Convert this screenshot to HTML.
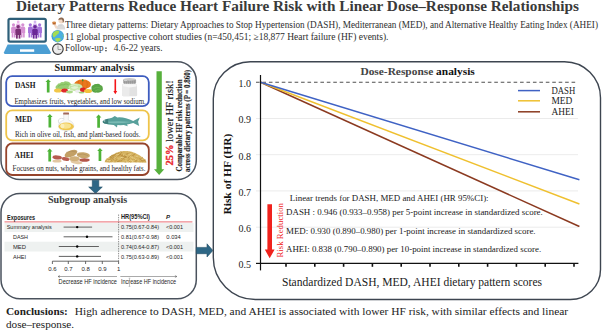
<!DOCTYPE html>
<html><head><meta charset="utf-8">
<style>
html,body{margin:0;padding:0;background:#fff;}
body{width:602px;height:331px;overflow:hidden;}
svg{display:block;}
.serif{font-family:"Liberation Serif",serif;}
.sans{font-family:"Liberation Sans",sans-serif;}
</style></head><body>
<svg width="602" height="331" viewBox="0 0 602 331">
<rect width="602" height="331" fill="#fff"/>

<!-- ===== TITLE ===== -->
<text class="serif" x="16" y="11.3" font-size="15.3" font-weight="bold" fill="#3a3a3a" textLength="563" lengthAdjust="spacingAndGlyphs">Dietary Patterns Reduce Heart Failure Risk with Linear Dose–Response Relationships</text>

<!-- ===== LAPTOP ===== -->
<g id="laptop">
  <rect x="8.5" y="18.8" width="37.3" height="22.8" rx="1.5" fill="#fff" stroke="#2e5f79" stroke-width="2.2"/>
  <path d="M7.6 44.6 L46.3 44.6 L50.8 52.2 Q51.3 53.9 49.5 53.9 L5.2 53.9 Q3.4 53.9 4 52.2 Z" fill="#4b9ed3"/>
  <rect x="20" y="49.3" width="14.2" height="2.5" fill="#fff"/>
  <!-- people -->
  <g transform="translate(0 0)">
    <g fill="#eab2e8">
      <circle cx="18.2" cy="21.9" r="1.4"/>
      <rect x="16.2" y="23.5" width="4" height="5" rx="1"/>
    </g>
    <g fill="#d690d3">
      <circle cx="13.5" cy="24.8" r="1.6"/>
      <path d="M11.2 33 L11.2 28.2 Q11.2 26.6 12.8 26.6 L14.4 26.6 Q16 26.6 16 28.2 L16 33Z"/>
      <rect x="11.7" y="32" width="1.6" height="5.5"/><rect x="13.9" y="32" width="1.6" height="5.5"/>
      <circle cx="22.8" cy="24.8" r="1.6"/>
      <path d="M20.4 33 L20.4 28.2 Q20.4 26.6 22 26.6 L23.6 26.6 Q25.2 26.6 25.2 28.2 L25.2 33Z"/>
      <rect x="20.9" y="32" width="1.6" height="5.5"/><rect x="23.1" y="32" width="1.6" height="5.5"/>
    </g>
    <g fill="#c87cc5" opacity="0.8">
      <rect x="15.8" y="25.5" width="5" height="3" rx="1"/>
    </g>
    <g fill="#7b3075">
      <circle cx="18.2" cy="26.7" r="1.6"/>
      <path d="M15.4 35 L15.4 30.3 Q15.4 28.6 17 28.6 L19.4 28.6 Q21 28.6 21 30.3 L21 35Z"/>
      <rect x="16" y="34" width="1.8" height="4.6"/><rect x="18.6" y="34" width="1.8" height="4.6"/>
    </g>
  </g>
  <g transform="translate(16.8 0)">
    <g fill="#d4b6f0">
      <circle cx="18.2" cy="21.9" r="1.4"/>
      <rect x="16.2" y="23.5" width="4" height="5" rx="1"/>
    </g>
    <g fill="#a774dc">
      <circle cx="13.5" cy="24.8" r="1.6"/>
      <path d="M11.2 33 L11.2 28.2 Q11.2 26.6 12.8 26.6 L14.4 26.6 Q16 26.6 16 28.2 L16 33Z"/>
      <rect x="11.7" y="32" width="1.6" height="5.5"/><rect x="13.9" y="32" width="1.6" height="5.5"/>
      <circle cx="22.8" cy="24.8" r="1.6"/>
      <path d="M20.4 33 L20.4 28.2 Q20.4 26.6 22 26.6 L23.6 26.6 Q25.2 26.6 25.2 28.2 L25.2 33Z"/>
      <rect x="20.9" y="32" width="1.6" height="5.5"/><rect x="23.1" y="32" width="1.6" height="5.5"/>
    </g>
    <g fill="#9460cc" opacity="0.8">
      <rect x="15.8" y="25.5" width="5" height="3" rx="1"/>
    </g>
    <g fill="#6a2797">
      <circle cx="18.2" cy="26.7" r="1.6"/>
      <path d="M15.4 35 L15.4 30.3 Q15.4 28.6 17 28.6 L19.4 28.6 Q21 28.6 21 30.3 L21 35Z"/>
      <rect x="16" y="34" width="1.8" height="4.6"/><rect x="18.6" y="34" width="1.8" height="4.6"/>
    </g>
  </g>
</g>

<!-- ===== SMALL ICONS ===== -->
<g id="icons">
  <!-- person w cup -->
  <path d="M56.3 29.6 Q56.5 24.6 61 24.1 Q65 24.4 65.2 29.6 Z" fill="#dadada"/>
  <path d="M58.5 25 Q60.5 26.5 62.5 24.6" fill="none" stroke="#c8c8c8" stroke-width="0.5"/>
  <circle cx="61.2" cy="20.6" r="2.8" fill="#f2d9c6"/>
  <path d="M58.4 20 Q58.4 17.4 61.4 17.4 Q64.3 17.6 64.1 20.8 Q63.6 22.6 62.8 23 Q63 20.3 61.8 19.5 Q60 19.3 58.4 20Z" fill="#8c6a52"/>
  <path d="M53.6 24.4 L55.7 28.8 L57.6 27.6 L55.6 24Z" fill="#f2d9c6"/>
  <path d="M52.3 22.2 L56 22.2 L55.6 24.6 L52.7 24.6Z" fill="#b9662b"/>
  <ellipse cx="54.15" cy="22.2" rx="1.85" ry="0.6" fill="#d9893f"/>
  <!-- globe -->
  <circle cx="57.7" cy="36.2" r="6.2" fill="#3d9fd6"/>
  <circle cx="57.9" cy="36.1" r="5.4" fill="#4cb0e0"/>
  <path d="M52.6 33.6 Q54 30.9 57.2 30.5 Q58.8 30.6 59.4 31.6 Q58.4 32.6 58.8 33.4 Q57.4 33.8 57 35 Q55.8 35.2 55.2 36.6 Q54.2 37.6 53.2 36.8 Q52.4 35.2 52.6 33.6Z" fill="#a4dc52"/>
  <path d="M55.3 38.6 Q57 37.6 59.4 38 Q61.4 38.6 60.6 40 Q59.2 41.6 57.6 41.9 Q56 41.6 55.6 40.6 Q55 39.4 55.3 38.6Z" fill="#a4dc52"/>
  <path d="M62.8 34 Q63.9 35.5 63.6 37.6 Q62.6 36.5 62.8 34Z" fill="#a4dc52"/>
  <!-- clock -->
  <circle cx="57.9" cy="49.1" r="5.3" fill="#ececec" stroke="#383838" stroke-width="1.15"/>
  <path d="M58 45.6 L58 49.5 L61.2 49.5" fill="none" stroke="#8e8e8e" stroke-width="0.8"/>
</g>

<!-- ===== INTRO TEXT ===== -->
<g class="serif" fill="#2e2e2e" font-size="9.7">
  <text x="65" y="28.3" textLength="533" lengthAdjust="spacingAndGlyphs">Three dietary patterns: Dietary Approaches to Stop Hypertension (DASH), Mediterranean (MED), and Alternative Healthy Eating Index (AHEI)</text>
  <text x="65" y="40" textLength="323.5" lengthAdjust="spacingAndGlyphs">11 global prospective cohort studies (n=450,451; ≥18,877 Heart failure (HF) events).</text>
  <text x="65" y="51.3" textLength="38.6" lengthAdjust="spacingAndGlyphs">Follow-up</text>
  <rect x="105.3" y="47.5" width="1.3" height="1.3"/><rect x="105.3" y="50" width="1.3" height="1.3"/>
  <text x="113.8" y="51.3" textLength="48.8" lengthAdjust="spacingAndGlyphs">4.6-22 years.</text>
</g>

<!-- ===== SUMMARY PANEL ===== -->
<rect x="1" y="61.8" width="195.3" height="117.7" rx="19" fill="none" stroke="#4a525d" stroke-width="1.5"/>
<text class="serif" x="54.6" y="71" font-size="10.1" font-weight="bold" fill="#222" textLength="79.8" lengthAdjust="spacingAndGlyphs">Summary analysis</text>

<rect x="6.2" y="76.2" width="142.6" height="30" rx="6" fill="none" stroke="#3d5cbf" stroke-width="1.8"/>
<rect x="6.2" y="110.4" width="142.6" height="29.9" rx="6" fill="none" stroke="#eec44a" stroke-width="1.8"/>
<rect x="6.2" y="143.5" width="142.6" height="31.5" rx="6" fill="none" stroke="#96442c" stroke-width="1.8"/>

<g class="serif" font-weight="bold" fill="#1a1a1a" font-size="7.6">
  <text x="14.9" y="87.7" textLength="20.6" lengthAdjust="spacingAndGlyphs">DASH</text>
  <text x="14.9" y="122.4" textLength="17.3" lengthAdjust="spacingAndGlyphs">MED</text>
  <text x="14.6" y="158.4" textLength="18.9" lengthAdjust="spacingAndGlyphs">AHEI</text>
</g>
<g class="serif" fill="#1e1e1e" font-size="7.7">
  <text x="14.4" y="103.6" textLength="131.4" lengthAdjust="spacingAndGlyphs">Emphasizes fruits, vegetables, and low sodium.</text>
  <text x="14.9" y="136.8" textLength="125.6" lengthAdjust="spacingAndGlyphs">Rich in olive oil, fish, and plant-based foods.</text>
  <text x="12.6" y="170.6" textLength="132.8" lengthAdjust="spacingAndGlyphs">Focuses on nuts, whole grains, and healthy fats.</text>
</g>

<!-- veggies -->
<g id="veg">
  <path d="M55.5 88 Q55.3 85.5 57.2 85 Q57.8 83 60 83.4 Q61 81.6 63.3 82.2 Q65 80.8 67 81.6 Q69.5 81.5 70.2 83.2 Q72.5 84 72 86.5 L70 89 L57 89.5Z" fill="#96cd72"/>
  <path d="M58 86.5 Q61 84 63.5 84.8 Q66 83 68.5 84.6" fill="none" stroke="#6fb24c" stroke-width="0.6"/>
  <ellipse cx="82.6" cy="84.4" rx="8.4" ry="4.9" fill="#e9781d"/>
  <path d="M78.6 80.6 Q77 84.4 78.8 88.6 M86.6 80.6 Q88.2 84.4 86.4 88.6 M82.6 79.6 L82.6 89" fill="none" stroke="#d2640f" stroke-width="0.6"/>
  <path d="M82.1 79.2 L83.3 79.2 L83.5 81.2 L81.9 81.2Z" fill="#3f8a2a"/>
  <path d="M91.5 88.8 Q91 85.6 93.5 85 Q94.5 83.6 96.8 84 Q99 83.4 100.3 85 Q102.8 85.6 102.8 88 Q103.5 90.5 101.5 91.6 Q99.5 93.2 96.5 92.6 Q93.3 93 92.2 91.2 Q91 90.3 91.5 88.8Z" fill="#5aa546"/>
  <path d="M93.5 88.5 Q96.5 86.2 100.5 88 M95 91 Q97.5 89 100.8 90.2" fill="none" stroke="#7cc062" stroke-width="0.6"/>
  <ellipse cx="75.6" cy="87.3" rx="7" ry="3.9" fill="#c9e8ae"/>
  <ellipse cx="74.5" cy="86.6" rx="3.6" ry="2.3" fill="#e2f3d4"/>
  <path d="M70 87 Q74 84.5 80 86.5" fill="none" stroke="#a6d587" stroke-width="0.6"/>
  <ellipse cx="58" cy="90.5" rx="4" ry="2" fill="#f1c749"/>
  <ellipse cx="64.6" cy="90.5" rx="3.4" ry="2" fill="#df2a2a"/>
  <ellipse cx="69.5" cy="92" rx="3.4" ry="1.4" fill="#acd98b"/>
  <ellipse cx="77.5" cy="91.3" rx="2.4" ry="1.7" fill="#eeecef"/>
  <ellipse cx="83" cy="89.8" rx="3" ry="2.2" fill="#dc2424"/>
  <ellipse cx="88" cy="91" rx="4" ry="2" fill="#f2c23c"/>
  <ellipse cx="81.5" cy="92.6" rx="3" ry="0.9" fill="#9fd07c"/>
</g>
<!-- salt shaker -->
<g id="salt">
  <path d="M122.4 84 L137 84 L137.2 95 Q137.2 96.2 135.8 96.2 L123.6 96.2 Q122.2 96.2 122.2 95Z" fill="#e2e2e2"/>
  <path d="M122.4 84 L129.5 84 L129.3 96.2 L123.6 96.2 Q122.2 96.2 122.2 95Z" fill="#ebebeb"/>
  <path d="M122.6 84.2 L137 84.2 L136.4 86.4 L129.5 87.6 L123.2 86.2Z" fill="#f7f7f7"/>
  <rect x="123.2" y="79.2" width="12.9" height="4.6" rx="1.2" fill="#a5a5a5"/>
  <ellipse cx="129.65" cy="79.4" rx="6.3" ry="1.3" fill="#c9c9c9"/>
  <path d="M124.5 80.5 L124.5 83.5 M126.5 80.8 L126.5 83.7 M128.5 80.9 L128.5 83.8 M130.5 80.9 L130.5 83.8 M132.5 80.8 L132.5 83.7 M134.5 80.5 L134.5 83.5" stroke="#8c8c8c" stroke-width="0.5"/>
  <path d="M124 80.6 L127 80.6" stroke="#e0e0e0" stroke-width="0.8"/>
</g>
<!-- olive oil -->
<g id="oil">
  <path d="M63.6 113.8 L68.6 113.8 L68.3 120 Q73.8 121.8 73.9 126 Q73.8 130.6 66.2 130.6 Q58.4 130.6 58.4 126 Q58.5 121.8 63.9 120Z" fill="#f7f7f5" stroke="#cfd3d3" stroke-width="0.45"/>
  <path d="M63.8 118.6 Q58.6 117.6 58.3 121 Q58.3 123.6 60.6 123.8" fill="none" stroke="#cfd3d3" stroke-width="0.7"/>
  <ellipse cx="66.2" cy="126.4" rx="7.6" ry="3.9" fill="#efc64e"/>
  <ellipse cx="65.6" cy="126" rx="5.6" ry="2.7" fill="#f8e391"/>
  <ellipse cx="62.5" cy="126" rx="2" ry="2.2" fill="#fbeeb8"/>
  <rect x="63.2" y="112.4" width="5.8" height="2" rx="0.5" fill="#a2695a"/>
</g>
<!-- fish -->
<g id="fish">
  <path d="M102.6 121.8 Q103.5 119.6 107 118.9 L112 117.8 L114.8 115.9 L117.4 117.4 Q122 117.1 126 118.3 Q130 119.4 133.2 121 L139.8 117.5 L138.1 121.8 L139.2 125.9 L133.2 123.1 Q129 124.3 127 124.6 L127.8 126.2 L123.8 125.1 Q120 125.3 117.4 125.1 L117 127.5 L113.8 125 Q108 124.7 104.5 123.5 Q102.7 122.9 102.6 121.8Z" fill="#58a09b"/>
  <path d="M106 121.8 Q118 120.6 132 121.9 Q118 123.8 106 122.8Z" fill="#82c0ba" opacity="0.8"/>
  <path d="M102.6 121.8 Q103.5 119.6 107 118.9 L108.4 118.7 Q107.6 121 108.4 123.9 Q105.5 123.6 104.5 123.5 Q102.7 122.9 102.6 121.8Z" fill="#3f7f7c"/>
  <circle cx="104.7" cy="120.9" r="0.55" fill="#e8f4f2"/>
</g>
<!-- nuts -->
<g id="nuts">
  <ellipse cx="57" cy="161.2" rx="4.6" ry="1.4" fill="#e2c7a2"/>
  <ellipse cx="76.5" cy="162.4" rx="6" ry="1.6" fill="#e3c9a3" transform="rotate(8 76.5 162.4)"/>
  <ellipse cx="71" cy="153.6" rx="6.8" ry="3.2" fill="#c3a065" transform="rotate(-22 71 153.6)"/>
  <ellipse cx="83.3" cy="155.2" rx="6.6" ry="3" fill="#c8a76d" transform="rotate(6 83.3 155.2)"/>
  <ellipse cx="74.5" cy="158.8" rx="5.2" ry="2.5" fill="#d0b07a"/>
  <ellipse cx="57.2" cy="157.4" rx="4.8" ry="2" fill="#b65b4f" transform="rotate(6 57.2 157.4)"/>
  <ellipse cx="65.6" cy="159" rx="3.9" ry="1.9" fill="#b95e51" transform="rotate(12 65.6 159)"/>
  <ellipse cx="84.5" cy="160" rx="5.2" ry="1.8" fill="#b45649"/>
  <path d="M66 152.5 Q71 150 76 152" fill="none" stroke="#a98650" stroke-width="0.5"/>
  <path d="M78 154.5 Q83 153 88 155.5" fill="none" stroke="#a98650" stroke-width="0.5"/>
</g>
<!-- grains -->
<g id="grain">
  <path d="M104.5 162.2 L104.5 162.20 L105.5 160.38 L106.5 159.25 L107.5 158.29 L108.5 157.44 L109.5 156.67 L110.5 155.96 L111.5 155.31 L112.5 154.71 L113.5 154.15 L114.5 153.65 L115.5 153.19 L116.5 152.77 L117.5 152.40 L118.5 152.07 L119.5 151.79 L120.5 151.55 L121.5 151.35 L122.5 151.20 L123.5 151.09 L124.5 151.02 L125.5 151.00 L126.5 151.02 L127.5 151.09 L128.5 151.20 L129.5 151.35 L130.5 151.55 L131.5 151.79 L132.5 152.07 L133.5 152.40 L134.5 152.77 L135.5 153.19 L136.5 153.65 L137.5 154.15 L138.5 154.71 L139.5 155.31 L140.5 155.96 L141.5 156.67 L142.5 157.44 L143.5 158.29 L144.5 159.25 L145.5 160.38 L146.5 162.20 L146.5 162.4 Z" fill="#d7b563"/>
  <g stroke-width="0.55" stroke-linecap="round"><line x1="114.40" y1="158.50" x2="116.16" y2="158.10" stroke="#f0da9a"/><line x1="128.02" y1="157.44" x2="129.28" y2="158.53" stroke="#a87d30"/><line x1="114.12" y1="162.02" x2="116.16" y2="161.91" stroke="#d2ae5a"/><line x1="120.89" y1="160.91" x2="122.09" y2="160.30" stroke="#a87d30"/><line x1="120.61" y1="151.84" x2="121.81" y2="152.47" stroke="#a87d30"/><line x1="107.05" y1="160.89" x2="108.29" y2="161.68" stroke="#a87d30"/><line x1="133.05" y1="160.55" x2="135.02" y2="161.32" stroke="#d2ae5a"/><line x1="133.94" y1="157.85" x2="134.86" y2="158.82" stroke="#e9cf86"/><line x1="108.85" y1="158.23" x2="110.75" y2="157.21" stroke="#d2ae5a"/><line x1="135.37" y1="161.01" x2="137.39" y2="160.73" stroke="#a87d30"/><line x1="118.64" y1="157.84" x2="120.73" y2="158.15" stroke="#f0da9a"/><line x1="140.88" y1="157.89" x2="142.55" y2="157.22" stroke="#f0da9a"/><line x1="111.64" y1="160.32" x2="113.09" y2="161.84" stroke="#a87d30"/><line x1="108.99" y1="159.98" x2="111.12" y2="160.48" stroke="#e9cf86"/><line x1="116.22" y1="153.07" x2="118.01" y2="154.34" stroke="#c49a45"/><line x1="118.95" y1="152.66" x2="119.89" y2="153.44" stroke="#d2ae5a"/><line x1="135.35" y1="161.63" x2="136.62" y2="160.33" stroke="#c49a45"/><line x1="119.68" y1="157.81" x2="121.79" y2="158.00" stroke="#e9cf86"/><line x1="125.11" y1="162.19" x2="126.31" y2="161.78" stroke="#a87d30"/><line x1="126.38" y1="160.92" x2="127.39" y2="162.02" stroke="#e9cf86"/><line x1="111.49" y1="155.37" x2="112.70" y2="156.27" stroke="#b88a38"/><line x1="140.11" y1="158.88" x2="141.83" y2="158.76" stroke="#f0da9a"/><line x1="138.97" y1="160.81" x2="140.64" y2="159.42" stroke="#a87d30"/><line x1="115.59" y1="158.44" x2="117.57" y2="159.23" stroke="#d2ae5a"/><line x1="143.53" y1="160.74" x2="144.74" y2="160.84" stroke="#d2ae5a"/><line x1="143.64" y1="160.72" x2="145.38" y2="160.34" stroke="#b88a38"/><line x1="107.41" y1="160.63" x2="109.28" y2="160.52" stroke="#e9cf86"/><line x1="128.85" y1="154.80" x2="130.64" y2="154.77" stroke="#f0da9a"/><line x1="106.10" y1="160.27" x2="107.56" y2="160.60" stroke="#a87d30"/><line x1="117.74" y1="156.32" x2="119.22" y2="155.82" stroke="#a87d30"/><line x1="115.52" y1="160.82" x2="117.08" y2="159.54" stroke="#a87d30"/><line x1="131.74" y1="153.94" x2="133.59" y2="153.94" stroke="#e9cf86"/><line x1="114.37" y1="155.50" x2="116.25" y2="155.29" stroke="#c49a45"/><line x1="128.75" y1="161.27" x2="130.11" y2="161.70" stroke="#b88a38"/><line x1="108.34" y1="161.27" x2="109.90" y2="160.43" stroke="#e9cf86"/><line x1="114.08" y1="155.03" x2="115.47" y2="155.11" stroke="#a87d30"/><line x1="112.37" y1="156.43" x2="113.95" y2="157.37" stroke="#a87d30"/><line x1="118.53" y1="154.00" x2="120.40" y2="153.29" stroke="#e9cf86"/><line x1="123.30" y1="158.53" x2="124.95" y2="157.89" stroke="#c49a45"/><line x1="141.21" y1="159.08" x2="142.60" y2="157.44" stroke="#a87d30"/><line x1="143.74" y1="160.02" x2="145.24" y2="161.53" stroke="#b88a38"/><line x1="106.38" y1="160.01" x2="108.14" y2="160.84" stroke="#e9cf86"/><line x1="126.38" y1="160.25" x2="128.04" y2="161.47" stroke="#e9cf86"/><line x1="109.99" y1="158.52" x2="111.37" y2="157.07" stroke="#a87d30"/><line x1="141.35" y1="160.98" x2="142.71" y2="162.12" stroke="#c49a45"/><line x1="124.04" y1="152.86" x2="125.48" y2="152.87" stroke="#c49a45"/><line x1="125.82" y1="155.29" x2="127.13" y2="156.54" stroke="#e9cf86"/><line x1="109.89" y1="161.77" x2="111.89" y2="161.91" stroke="#c49a45"/><line x1="118.72" y1="154.18" x2="120.73" y2="154.30" stroke="#b88a38"/><line x1="114.82" y1="155.67" x2="115.86" y2="156.51" stroke="#c49a45"/><line x1="124.05" y1="157.71" x2="125.98" y2="157.37" stroke="#b88a38"/><line x1="115.65" y1="158.04" x2="117.30" y2="157.81" stroke="#c49a45"/><line x1="138.98" y1="161.06" x2="139.86" y2="160.17" stroke="#d2ae5a"/><line x1="143.37" y1="162.18" x2="144.65" y2="161.05" stroke="#e9cf86"/><line x1="111.35" y1="156.15" x2="112.90" y2="155.83" stroke="#e9cf86"/><line x1="119.44" y1="154.30" x2="120.71" y2="153.91" stroke="#a87d30"/><line x1="105.37" y1="161.07" x2="106.90" y2="161.95" stroke="#c49a45"/><line x1="119.86" y1="157.72" x2="121.25" y2="158.47" stroke="#c49a45"/><line x1="129.47" y1="156.56" x2="131.12" y2="156.19" stroke="#f0da9a"/><line x1="117.68" y1="161.63" x2="118.89" y2="161.45" stroke="#b88a38"/><line x1="126.30" y1="159.40" x2="127.49" y2="158.29" stroke="#d2ae5a"/><line x1="110.05" y1="156.66" x2="112.12" y2="156.01" stroke="#a87d30"/><line x1="136.19" y1="156.45" x2="137.51" y2="156.36" stroke="#f0da9a"/><line x1="131.01" y1="160.47" x2="132.64" y2="161.38" stroke="#f0da9a"/><line x1="117.60" y1="157.15" x2="119.24" y2="158.14" stroke="#d2ae5a"/><line x1="111.15" y1="161.07" x2="112.05" y2="160.15" stroke="#c49a45"/><line x1="131.06" y1="155.63" x2="132.36" y2="156.44" stroke="#c49a45"/><line x1="106.05" y1="159.69" x2="107.94" y2="159.63" stroke="#e9cf86"/><line x1="127.91" y1="160.66" x2="129.26" y2="159.24" stroke="#a87d30"/><line x1="125.98" y1="154.04" x2="127.28" y2="154.16" stroke="#a87d30"/><line x1="107.38" y1="159.27" x2="109.39" y2="159.50" stroke="#b88a38"/><line x1="143.99" y1="161.48" x2="145.88" y2="161.33" stroke="#d2ae5a"/><line x1="115.23" y1="158.04" x2="116.50" y2="159.26" stroke="#c49a45"/><line x1="119.89" y1="153.75" x2="121.39" y2="155.14" stroke="#b88a38"/><line x1="121.14" y1="157.47" x2="123.25" y2="157.76" stroke="#f0da9a"/><line x1="124.35" y1="157.86" x2="125.38" y2="158.72" stroke="#c49a45"/><line x1="124.41" y1="156.26" x2="126.43" y2="156.99" stroke="#a87d30"/><line x1="133.39" y1="155.11" x2="134.68" y2="154.56" stroke="#a87d30"/><line x1="125.40" y1="160.82" x2="126.82" y2="161.82" stroke="#e9cf86"/><line x1="131.30" y1="160.49" x2="133.06" y2="160.78" stroke="#e9cf86"/><line x1="139.77" y1="158.71" x2="141.61" y2="157.92" stroke="#b88a38"/><line x1="111.78" y1="157.94" x2="113.66" y2="157.34" stroke="#b88a38"/><line x1="121.66" y1="158.68" x2="122.98" y2="159.16" stroke="#a87d30"/><line x1="137.71" y1="160.73" x2="139.39" y2="160.89" stroke="#f0da9a"/><line x1="107.91" y1="161.29" x2="109.74" y2="162.27" stroke="#c49a45"/><line x1="123.37" y1="154.44" x2="125.09" y2="153.59" stroke="#f0da9a"/><line x1="107.75" y1="159.21" x2="109.65" y2="158.34" stroke="#e9cf86"/><line x1="110.77" y1="159.54" x2="111.95" y2="159.91" stroke="#e9cf86"/><line x1="112.07" y1="155.88" x2="113.17" y2="155.20" stroke="#c49a45"/><line x1="110.14" y1="157.54" x2="111.06" y2="158.35" stroke="#d2ae5a"/><line x1="128.13" y1="159.28" x2="129.13" y2="158.11" stroke="#d2ae5a"/><line x1="119.87" y1="152.61" x2="121.75" y2="153.10" stroke="#d2ae5a"/><line x1="120.67" y1="157.90" x2="121.83" y2="156.99" stroke="#f0da9a"/><line x1="122.15" y1="156.21" x2="123.59" y2="156.28" stroke="#a87d30"/><line x1="141.84" y1="159.18" x2="143.58" y2="160.08" stroke="#e9cf86"/><line x1="131.13" y1="158.15" x2="132.57" y2="159.57" stroke="#c49a45"/><line x1="134.58" y1="161.42" x2="136.24" y2="161.94" stroke="#c49a45"/><line x1="131.47" y1="157.87" x2="132.55" y2="156.83" stroke="#f0da9a"/><line x1="127.20" y1="153.38" x2="128.98" y2="153.84" stroke="#b88a38"/><line x1="119.81" y1="161.26" x2="121.11" y2="161.16" stroke="#a87d30"/><line x1="110.68" y1="157.58" x2="112.35" y2="158.26" stroke="#a87d30"/><line x1="116.73" y1="154.65" x2="118.71" y2="154.59" stroke="#f0da9a"/><line x1="107.89" y1="160.46" x2="109.46" y2="161.21" stroke="#f0da9a"/><line x1="120.71" y1="153.23" x2="121.86" y2="152.75" stroke="#b88a38"/><line x1="106.75" y1="160.82" x2="108.53" y2="159.98" stroke="#e9cf86"/><line x1="139.13" y1="161.78" x2="141.14" y2="161.60" stroke="#c49a45"/><line x1="119.19" y1="160.98" x2="120.34" y2="160.06" stroke="#c49a45"/><line x1="132.08" y1="157.52" x2="133.07" y2="158.38" stroke="#f0da9a"/><line x1="112.46" y1="157.40" x2="114.30" y2="158.23" stroke="#f0da9a"/><line x1="110.20" y1="159.15" x2="111.82" y2="160.32" stroke="#a87d30"/><line x1="125.95" y1="157.88" x2="127.21" y2="157.16" stroke="#e9cf86"/><line x1="106.34" y1="160.77" x2="108.01" y2="162.12" stroke="#d2ae5a"/><line x1="117.52" y1="161.41" x2="119.12" y2="160.85" stroke="#a87d30"/><line x1="132.10" y1="155.03" x2="133.46" y2="156.02" stroke="#a87d30"/><line x1="112.67" y1="159.98" x2="114.19" y2="158.74" stroke="#b88a38"/><line x1="124.49" y1="157.09" x2="125.88" y2="157.00" stroke="#a87d30"/><line x1="113.47" y1="159.84" x2="115.05" y2="161.30" stroke="#c49a45"/><line x1="127.56" y1="161.16" x2="128.59" y2="162.00" stroke="#c49a45"/><line x1="129.61" y1="152.78" x2="131.00" y2="152.43" stroke="#c49a45"/><line x1="124.71" y1="152.01" x2="126.18" y2="151.59" stroke="#e9cf86"/><line x1="132.36" y1="153.56" x2="133.82" y2="154.62" stroke="#c49a45"/><line x1="132.96" y1="159.97" x2="134.89" y2="159.43" stroke="#c49a45"/><line x1="138.84" y1="158.24" x2="140.36" y2="158.97" stroke="#c49a45"/><line x1="135.90" y1="156.93" x2="137.47" y2="158.01" stroke="#d2ae5a"/><line x1="124.58" y1="158.82" x2="126.20" y2="158.93" stroke="#f0da9a"/><line x1="124.13" y1="151.92" x2="126.01" y2="151.78" stroke="#d2ae5a"/><line x1="112.32" y1="161.00" x2="113.77" y2="161.59" stroke="#e9cf86"/><line x1="122.39" y1="155.60" x2="124.53" y2="155.23" stroke="#b88a38"/><line x1="115.38" y1="156.16" x2="116.79" y2="157.17" stroke="#b88a38"/><line x1="113.49" y1="155.82" x2="114.84" y2="155.59" stroke="#c49a45"/><line x1="110.74" y1="159.70" x2="112.12" y2="159.56" stroke="#c49a45"/><line x1="121.07" y1="155.82" x2="122.38" y2="154.42" stroke="#b88a38"/><line x1="121.00" y1="156.71" x2="122.46" y2="155.12" stroke="#b88a38"/><line x1="114.76" y1="157.40" x2="116.08" y2="156.61" stroke="#c49a45"/><line x1="118.82" y1="154.26" x2="120.19" y2="152.90" stroke="#e9cf86"/><line x1="143.32" y1="161.34" x2="145.22" y2="162.38" stroke="#d2ae5a"/><line x1="114.97" y1="155.41" x2="116.53" y2="156.37" stroke="#e9cf86"/><line x1="117.72" y1="153.31" x2="119.01" y2="153.17" stroke="#a87d30"/><line x1="105.63" y1="160.73" x2="106.66" y2="159.83" stroke="#c49a45"/><line x1="124.03" y1="153.56" x2="125.56" y2="153.59" stroke="#d2ae5a"/><line x1="118.36" y1="157.26" x2="120.16" y2="156.78" stroke="#d2ae5a"/><line x1="117.43" y1="157.96" x2="118.34" y2="158.86" stroke="#e9cf86"/><line x1="112.31" y1="157.84" x2="114.05" y2="157.86" stroke="#a87d30"/><line x1="131.70" y1="161.86" x2="133.34" y2="160.81" stroke="#f0da9a"/><line x1="120.38" y1="161.55" x2="121.72" y2="161.21" stroke="#d2ae5a"/><line x1="122.37" y1="156.03" x2="123.82" y2="156.56" stroke="#b88a38"/><line x1="125.06" y1="158.80" x2="126.49" y2="160.06" stroke="#d2ae5a"/><line x1="106.75" y1="158.87" x2="108.58" y2="159.73" stroke="#c49a45"/><line x1="135.03" y1="159.83" x2="136.13" y2="158.90" stroke="#f0da9a"/><line x1="107.61" y1="161.15" x2="108.79" y2="159.97" stroke="#f0da9a"/><line x1="130.77" y1="162.50" x2="131.67" y2="161.44" stroke="#c49a45"/><line x1="118.19" y1="155.52" x2="120.21" y2="155.35" stroke="#b88a38"/><line x1="114.63" y1="154.76" x2="116.14" y2="153.71" stroke="#a87d30"/><line x1="143.77" y1="160.28" x2="145.08" y2="159.77" stroke="#a87d30"/><line x1="125.53" y1="156.36" x2="126.68" y2="157.35" stroke="#a87d30"/><line x1="135.90" y1="157.74" x2="137.11" y2="158.00" stroke="#c49a45"/><line x1="128.51" y1="161.26" x2="130.15" y2="159.89" stroke="#e9cf86"/><line x1="108.45" y1="160.00" x2="110.24" y2="159.06" stroke="#a87d30"/><line x1="109.34" y1="159.01" x2="111.15" y2="159.57" stroke="#d2ae5a"/><line x1="128.73" y1="157.07" x2="130.31" y2="155.79" stroke="#a87d30"/><line x1="122.83" y1="155.99" x2="123.78" y2="155.24" stroke="#e9cf86"/><line x1="133.58" y1="154.22" x2="135.20" y2="153.78" stroke="#c49a45"/><line x1="141.07" y1="160.87" x2="143.00" y2="160.41" stroke="#c49a45"/><line x1="128.57" y1="154.40" x2="130.69" y2="153.84" stroke="#e9cf86"/><line x1="114.52" y1="157.79" x2="115.90" y2="157.14" stroke="#f0da9a"/><line x1="141.44" y1="160.21" x2="143.17" y2="161.54" stroke="#a87d30"/><line x1="123.44" y1="158.56" x2="124.72" y2="159.46" stroke="#b88a38"/><line x1="140.23" y1="161.78" x2="142.21" y2="161.72" stroke="#d2ae5a"/><line x1="123.56" y1="158.51" x2="125.05" y2="156.94" stroke="#c49a45"/><line x1="112.51" y1="155.31" x2="113.89" y2="155.88" stroke="#a87d30"/></g>
</g>
<!-- green up arrows -->
<g fill="#4db337">
  <path d="M46.85 92.4 L46.85 82.10000000000001 L45.45 82.10000000000001 L48.20 79.2 L50.95 82.10000000000001 L49.55 82.10000000000001 L49.55 92.4Z"/>
  <path d="M48.50 127.6 L48.50 117.0 L47.10 117.0 L49.85 114.1 L52.60 117.0 L51.20 117.0 L51.20 127.6Z"/>
  <path d="M97.25 127.8 L97.25 117.5 L95.85 117.5 L98.60 114.6 L101.35 117.5 L99.95 117.5 L99.95 127.8Z"/>
  <path d="M48.35 161.6 L48.35 151.5 L46.95 151.5 L49.70 148.6 L52.45 151.5 L51.05 151.5 L51.05 161.6Z"/>
  <path d="M98.60 161.0 L98.60 150.9 L97.20 150.9 L99.95 148.0 L102.70 150.9 L101.30 150.9 L101.30 161.0Z"/>
</g>
<!-- red down arrow -->
<path d="M114.5 79.2 L114.5 91 L113.4 91 L115.3 94.2 L117.2 91 L116.1 91 L116.1 79.2Z" fill="#f41519"/>

<!-- green big arrow -->
<path d="M156.5 71.3 L161.8 71.3 L161.8 169.2 L164.3 169.2 L159.15 175.1 L154 169.2 L156.5 169.2Z" fill="#57b03c"/>

<!-- rotated text -->
<g class="serif">
  <text transform="translate(173.2,165.5) rotate(-90)" font-size="11" fill="#1a1a1a" stroke="#1a1a1a" stroke-width="0.15" textLength="85.2" lengthAdjust="spacingAndGlyphs"><tspan fill="#e8262a" stroke="#e8262a" stroke-width="0.35" font-weight="bold">25%</tspan> lower HF risk!</text>
  <text transform="translate(181.9,171.5) rotate(-90)" font-size="7.4" font-weight="bold" fill="#1a1a1a" stroke="#1a1a1a" stroke-width="0.12" textLength="92.2" lengthAdjust="spacingAndGlyphs">Comparable HF risk reduction</text>
  <text transform="translate(189.9,172) rotate(-90)" font-size="7.4" font-weight="bold" fill="#1a1a1a" stroke="#1a1a1a" stroke-width="0.12" textLength="102.2" lengthAdjust="spacingAndGlyphs">across dietary patterns (P = 0.860)</text>
</g>

<!-- down arrow between panels -->
<path d="M92.3 180.2 L98.8 180.2 L98.8 187 L102.3 187 L95.5 193.5 L88.7 187 L92.3 187Z" fill="#2e6786" stroke="#234f66" stroke-width="0.6"/>

<!-- ===== SUBGROUP PANEL ===== -->
<rect x="1" y="193.5" width="195.3" height="105.3" rx="19" fill="none" stroke="#4a525d" stroke-width="1.5"/>
<text class="serif" x="48" y="203.3" font-size="10.1" font-weight="bold" fill="#3c3c3c" textLength="79.2" lengthAdjust="spacingAndGlyphs">Subgroup analysis</text>

<!-- row shading -->
<rect x="4.5" y="223" width="189" height="9" fill="#eef1f0"/>
<rect x="4.5" y="241.7" width="189" height="9.8" fill="#eef1f0"/>
<line x1="4.5" y1="221.9" x2="192.4" y2="221.9" stroke="#ee8a8f" stroke-width="1.3"/>

<g class="sans" font-size="6" fill="#262626">
  <text x="7.1" y="219.5" font-size="6.7" font-weight="bold" fill="#222" textLength="28" lengthAdjust="spacingAndGlyphs">Exposures</text>
  <text x="121" y="218.6" font-size="6.5" font-weight="bold" fill="#222" textLength="29" lengthAdjust="spacingAndGlyphs">HR(95%CI)</text>
  <text x="166" y="218.6" font-size="6.1" font-weight="bold" font-style="italic" fill="#222">P</text>
  <text x="6.7" y="229.3" textLength="45.1" lengthAdjust="spacingAndGlyphs">Summary analysis</text>
  <text x="13" y="239.2" textLength="15" lengthAdjust="spacingAndGlyphs">DASH</text>
  <text x="13" y="249" textLength="13" lengthAdjust="spacingAndGlyphs">MED</text>
  <text x="13" y="258.7" textLength="13.2" lengthAdjust="spacingAndGlyphs">AHEI</text>
  <text x="121" y="229.4" textLength="38" lengthAdjust="spacingAndGlyphs">0.75(0.67-0.84)</text>
  <text x="121" y="239" textLength="38" lengthAdjust="spacingAndGlyphs">0.81(0.67-0.98)</text>
  <text x="121" y="248.9" textLength="38" lengthAdjust="spacingAndGlyphs">0.74(0.64-0.87)</text>
  <text x="121" y="258.5" textLength="38" lengthAdjust="spacingAndGlyphs">0.75(0.63-0.89)</text>
  <text x="166" y="229.4" textLength="17" lengthAdjust="spacingAndGlyphs">&lt;0.001</text>
  <text x="166.3" y="238.8" textLength="14.5" lengthAdjust="spacingAndGlyphs">0.034</text>
  <text x="166" y="248.9" textLength="17" lengthAdjust="spacingAndGlyphs">&lt;0.001</text>
  <text x="166" y="258.5" textLength="17" lengthAdjust="spacingAndGlyphs">&lt;0.001</text>
  <text x="52.4" y="271.3" text-anchor="middle">0.6</text>
  <text x="68.3" y="271.3" text-anchor="middle">0.7</text>
  <text x="85.6" y="271.3" text-anchor="middle">0.8</text>
  <text x="102.3" y="271.3" text-anchor="middle">0.9</text>
  <text x="118.6" y="271.3" text-anchor="middle">1</text>
  <text x="58.6" y="284.4" font-size="6.3" textLength="58.4" lengthAdjust="spacingAndGlyphs">Decrease HF incidence</text>
  <text x="121" y="284.4" font-size="6.3" textLength="55" lengthAdjust="spacingAndGlyphs">Increase HF incidence</text>
</g>
<!-- forest lines -->
<g stroke="#505050" stroke-width="0.9">
  <line x1="63.6" y1="227.1" x2="92.1" y2="227.1"/>
  <line x1="63.6" y1="236.8" x2="112.5" y2="236.8"/>
  <line x1="58.8" y1="246.5" x2="98.9" y2="246.5"/>
  <line x1="58.8" y1="256.4" x2="101" y2="256.4"/>
</g>
<g stroke="#444" stroke-width="0.8">
  <line x1="52.4" y1="261.2" x2="118.6" y2="261.2"/>
  <line x1="52.4" y1="261.2" x2="52.4" y2="264"/>
  <line x1="68.3" y1="261.2" x2="68.3" y2="264"/>
  <line x1="85.6" y1="261.2" x2="85.6" y2="264"/>
  <line x1="102.3" y1="261.2" x2="102.3" y2="264"/>
  <line x1="118.6" y1="261.2" x2="118.6" y2="264"/>
</g>
<line x1="118.6" y1="214.5" x2="118.6" y2="261.2" stroke="#444" stroke-width="0.6" stroke-dasharray="1.4,1"/>
<g fill="#000">
  <circle cx="77.2" cy="227.1" r="1.2"/>
  <circle cx="87" cy="236.8" r="1.2"/>
  <circle cx="77.2" cy="246.5" r="1.2"/>
  <circle cx="77.2" cy="256.4" r="1.2"/>
</g>
<g stroke="#555" stroke-width="0.5" fill="none">
  <line x1="58" y1="276.5" x2="117" y2="276.5"/>
  <path d="M60 275.5 L58 276.5 L60 277.5"/>
  <line x1="120.3" y1="276.5" x2="176.9" y2="276.5"/>
  <path d="M174.9 275.5 L176.9 276.5 L174.9 277.5"/>
  <path d="M129.5 278.4 L129.5 286.2 M128.7 278.2 L130.3 278.2 M128.7 286.4 L130.3 286.4" stroke="#999" stroke-width="0.6"/>
</g>

<!-- arrow to right panel -->
<path d="M196.3 247.4 L207 247.4 L207 243.8 L212.9 250.5 L207 257 L207 253.7 L196.3 253.7Z" fill="#2e6786" stroke="#234f66" stroke-width="0.6"/>

<!-- ===== DOSE RESPONSE PANEL ===== -->
<path d="M250.3 61.7 L564.5 61.7 A36 36 0 0 1 600.5 97.7 L600.5 269.5 A30 30 0 0 1 570.5 299.5 L255.3 299.5 A42 42 0 0 1 213.3 257.5 L213.3 98.7 A37 37 0 0 1 250.3 61.7Z" fill="none" stroke="#3d4550" stroke-width="1.4"/>
<text class="serif" x="360.4" y="75.1" font-size="10.6" font-weight="bold" fill="#444" textLength="114.4" lengthAdjust="spacingAndGlyphs">Dose-Response <tspan fill="#111">analysis</tspan></text>

<!-- grid -->
<g stroke="#e6e6e6" stroke-width="0.8">
  <line x1="256" y1="118.5" x2="578" y2="118.5"/>
  <line x1="256" y1="154.7" x2="578" y2="154.7"/>
  <line x1="256" y1="190.9" x2="578" y2="190.9"/>
  <line x1="256" y1="227.2" x2="578" y2="227.2"/>
</g>
<line x1="256" y1="82.3" x2="575.4" y2="82.3" stroke="#505050" stroke-width="1.1" stroke-dasharray="3.6,2.84"/>

<!-- data lines -->
<line x1="260.5" y1="82.3" x2="579.4" y2="226.5" stroke="#8b3a20" stroke-width="1.5"/>
<line x1="260.5" y1="82.3" x2="579.4" y2="204" stroke="#efc02f" stroke-width="1.5"/>
<line x1="260.5" y1="82.3" x2="579.4" y2="179.8" stroke="#3f62c4" stroke-width="1.5"/>

<!-- axes -->
<g stroke="#111" stroke-width="1.2">
  <line x1="260.5" y1="75" x2="260.5" y2="270.4"/>
  <line x1="260" y1="263.4" x2="578.4" y2="263.4"/>
    <line x1="256" y1="263.4" x2="260" y2="263.4"/>
</g>
<g stroke="#111" stroke-width="1.6"><line x1="286.0" y1="263.4" x2="286.0" y2="266.8"/><line x1="314.8" y1="263.4" x2="314.8" y2="266.8"/><line x1="343.6" y1="263.4" x2="343.6" y2="266.8"/><line x1="372.4" y1="263.4" x2="372.4" y2="266.8"/><line x1="401.2" y1="263.4" x2="401.2" y2="266.8"/><line x1="430.0" y1="263.4" x2="430.0" y2="266.8"/><line x1="458.8" y1="263.4" x2="458.8" y2="266.8"/><line x1="487.6" y1="263.4" x2="487.6" y2="266.8"/><line x1="516.4" y1="263.4" x2="516.4" y2="266.8"/><line x1="545.2" y1="263.4" x2="545.2" y2="266.8"/><line x1="574.0" y1="263.4" x2="574.0" y2="266.8"/></g>

<g class="serif" font-size="10" fill="#222" text-anchor="end">
  <text x="251" y="87.2">1.0</text>
  <text x="251" y="123.4">0.9</text>
  <text x="251" y="159.6">0.8</text>
  <text x="251" y="195.8">0.7</text>
  <text x="251" y="232.1">0.6</text>
  <text x="251" y="268.3">0.5</text>
</g>
<text class="serif" transform="translate(231.3,214.6) rotate(-90)" font-size="11.4" font-weight="bold" fill="#111" textLength="81" lengthAdjust="spacingAndGlyphs">Risk of HF (HR)</text>

<!-- legend -->
<g stroke-width="1.5">
  <line x1="518" y1="90.6" x2="540" y2="90.6" stroke="#3f62c4"/>
  <line x1="518" y1="100.8" x2="540" y2="100.8" stroke="#efc02f"/>
  <line x1="518" y1="111.8" x2="540" y2="111.8" stroke="#8b3a20"/>
</g>
<g class="serif" font-size="9.4" fill="#222">
  <text x="551.5" y="93.5" textLength="23.8" lengthAdjust="spacingAndGlyphs">DASH</text>
  <text x="551.5" y="103.6">MED</text>
  <text x="551.5" y="114.7">AHEI</text>
</g>

<!-- red arrow -->
<path d="M267.4 204.3 L272 204.3 L272 249.5 L274.6 249.5 L269.7 258.3 L264.8 249.5 L267.4 249.5Z" fill="#f0221c"/>
<text class="serif" transform="translate(283.3,257.5) rotate(-90)" font-size="8.8" fill="#f0221c" textLength="54.5" lengthAdjust="spacingAndGlyphs">Risk Reduction</text>

<g class="serif" font-size="8.9" fill="#1a1a1a">
  <text x="289.8" y="200.8" textLength="198.8" lengthAdjust="spacingAndGlyphs">Linear trends for DASH, MED and AHEI (HR 95%CI):</text>
  <text x="286" y="214.9" textLength="256.8" lengthAdjust="spacingAndGlyphs">DASH : 0.946 (0.933–0.958) per 5-point increase in standardized score.</text>
  <text x="286" y="233.5" textLength="249.6" lengthAdjust="spacingAndGlyphs">MED: 0.930 (0.890–0.980) per 1-point increase in standardized score.</text>
  <text x="286" y="252.4" textLength="255.2" lengthAdjust="spacingAndGlyphs">AHEI: 0.838 (0.790–0.890) per 10-point increase in standardized score.</text>
</g>
<text class="serif" x="282" y="285.8" font-size="11.5" fill="#1a1a1a" textLength="260" lengthAdjust="spacingAndGlyphs">Standardized DASH, MED, AHEI dietary pattern scores</text>

<!-- ===== CONCLUSIONS ===== -->
<g class="serif" font-size="11.2" fill="#222">
  <text x="6" y="314.8" font-weight="bold" textLength="61.8" lengthAdjust="spacingAndGlyphs">Conclusions:</text>
  <text x="74.7" y="314.8" textLength="493.5" lengthAdjust="spacingAndGlyphs">High adherence to DASH, MED, and AHEI is associated with lower HF risk, with similar effects and linear</text>
  <text x="6" y="327.5">dose–response.</text>
</g>
</svg>
</body></html>
